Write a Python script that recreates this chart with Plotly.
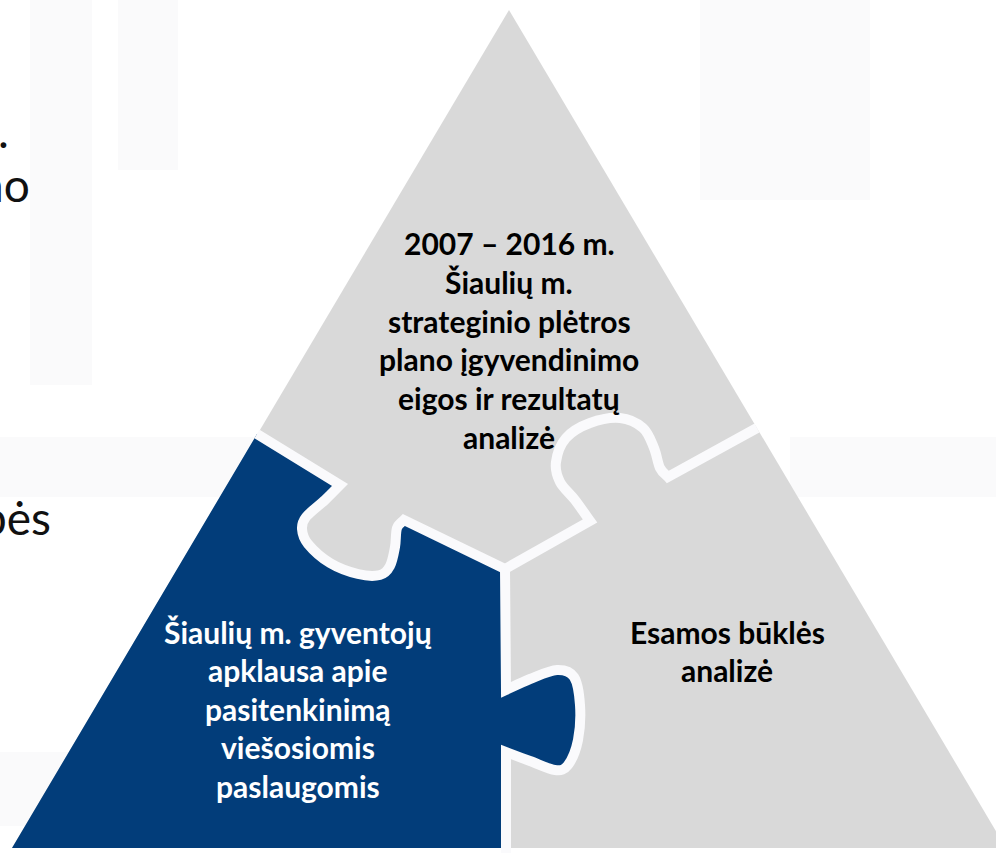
import plotly.graph_objects as go

W, H = 996, 853

# ---- geometry of the puzzle triangle (pixel-like axis units) ----
apex = (509, 10)
base_left = (12, 848)
base_right = (1006, 848)
junction = (505, 569)
left_mid = (257, 434)
right_mid = (757, 428)
bottom_mid = (506, 860)

# boundary between top piece and blue piece (tab of top piece)
left_tab = [(340, 485), (325, 500), (306, 517), (302, 529), (308, 544), (330, 563),
            (358, 574), (380, 575), (390, 566), (395, 547), (397, 528), (404, 520)]
# boundary between top piece and right piece (tab of right piece)
right_tab = [(590, 521), (575, 500), (560, 482), (556, 462), (566, 438), (590, 423),
             (620, 418), (643, 428), (654, 448), (660, 468), (668, 477)]
# boundary between blue piece and right piece (knob of blue piece)
bottom_knob = [(506, 690), (530, 679), (557, 670), (574, 677), (580, 705), (578, 740),
               (568, 765), (555, 770), (530, 761), (506, 752)]

# ---- texts ----
top_lines = ["2007 – 2016 m.", "Šiaulių m.", "strateginio plėtros",
             "plano įgyvendinimo", "eigos ir rezultatų", "analizė"]
blue_lines = ["Šiaulių m. gyventojų", "apklausa apie", "pasitenkinimą",
              "viešosiomis", "paslaugomis"]
right_lines = ["Esamos būklės", "analizė"]
side_fragments = [".", "no", "bės"]

GRAY = "#d9d9d9"
BLUE = "#023d7a"
FONT = "Lato"


def catmull(points):
    """Smooth cubic path through points (without the initial M)."""
    pts = [points[0]] + list(points) + [points[-1]]
    out = []
    for i in range(1, len(pts) - 2):
        p0, p1, p2, p3 = pts[i - 1], pts[i], pts[i + 1], pts[i + 2]
        c1 = (p1[0] + (p2[0] - p0[0]) / 6, p1[1] + (p2[1] - p0[1]) / 6)
        c2 = (p2[0] - (p3[0] - p1[0]) / 6, p2[1] - (p3[1] - p1[1]) / 6)
        out.append(f"C {c1[0]:.1f} {c1[1]:.1f} {c2[0]:.1f} {c2[1]:.1f} {p2[0]:.1f} {p2[1]:.1f}")
    return " ".join(out)


def boundary(start, tab, end):
    return (f"M {start[0]} {start[1]} L {tab[0][0]} {tab[0][1]} " + catmull(tab)
            + f" L {end[0]} {end[1]}")


left_path = boundary(left_mid, left_tab, junction)
right_path = boundary(junction, right_tab, right_mid)
bottom_path = boundary(junction, bottom_knob, bottom_mid)

tri_path = (f"M {apex[0]} {apex[1]} L {base_right[0]} {base_right[1]} "
            f"L {base_left[0]} {base_left[1]} Z")

blue_path = (left_path
             + f" L {bottom_knob[0][0]} {bottom_knob[0][1]} " + catmull(bottom_knob)
             + f" L {bottom_knob[-1][0]} {base_left[1]} L {base_left[0]} {base_left[1]} Z")

fig = go.Figure()
fig.add_trace(go.Scatter(x=[0, W], y=[0, H], mode="markers",
                         marker=dict(opacity=0), hoverinfo="skip", showlegend=False))

# faint watermark shapes in the background
faint = "#fafafb"
bg_rects = [(30, 0, 92, 385), (118, 0, 178, 170), (700, 0, 870, 200),
            (0, 437, 262, 497), (790, 437, 996, 497), (0, 752, 170, 826)]
shapes = [dict(type="rect", x0=a, y0=b, x1=c, y1=d, fillcolor=faint,
               line=dict(width=0), layer="below") for a, b, c, d in bg_rects]

shapes += [
    dict(type="path", path=tri_path, fillcolor=GRAY, line=dict(width=0), layer="below"),
    dict(type="path", path=blue_path, fillcolor=BLUE, line=dict(width=0), layer="below"),
]
for p in (left_path, right_path, bottom_path):
    shapes.append(dict(type="path", path=p, line=dict(color="#fafafc", width=10),
                       fillcolor="rgba(0,0,0,0)", layer="below"))

annotations = []
FS = 30
for i, t in enumerate(top_lines):
    annotations.append(dict(x=509, y=243 + i * 38.8, text=f"<b>{t}</b>", showarrow=False,
                            font=dict(family=FONT, size=FS, color="#000000"),
                            xanchor="center", yanchor="middle"))
for i, t in enumerate(blue_lines):
    annotations.append(dict(x=298, y=632 + i * 38.4, text=f"<b>{t}</b>", showarrow=False,
                            font=dict(family=FONT, size=FS, color="#ffffff"),
                            xanchor="center", yanchor="middle"))
for i, t in enumerate(right_lines):
    annotations.append(dict(x=727, y=632 + i * 38.4, text=f"<b>{t}</b>", showarrow=False,
                            font=dict(family=FONT, size=FS, color="#000000"),
                            xanchor="center", yanchor="middle"))
frag_pos = [(11, 130), (32, 184), (53, 517)]
for t, (fx, fy) in zip(side_fragments, frag_pos):
    annotations.append(dict(x=fx, y=fy, text=t, showarrow=False,
                            font=dict(family=FONT, size=46, color="#111111"),
                            xanchor="right", yanchor="middle"))

fig.update_layout(
    width=W, height=H, margin=dict(l=0, r=0, t=0, b=0),
    paper_bgcolor="white", plot_bgcolor="white",
    xaxis=dict(range=[0, W], visible=False, fixedrange=True),
    yaxis=dict(range=[H, 0], visible=False, fixedrange=True),
    shapes=shapes, annotations=annotations, showlegend=False,
)

fig.write_html("out.html", config={"displayModeBar": False},
               post_script="document.body.style.margin='0';")
